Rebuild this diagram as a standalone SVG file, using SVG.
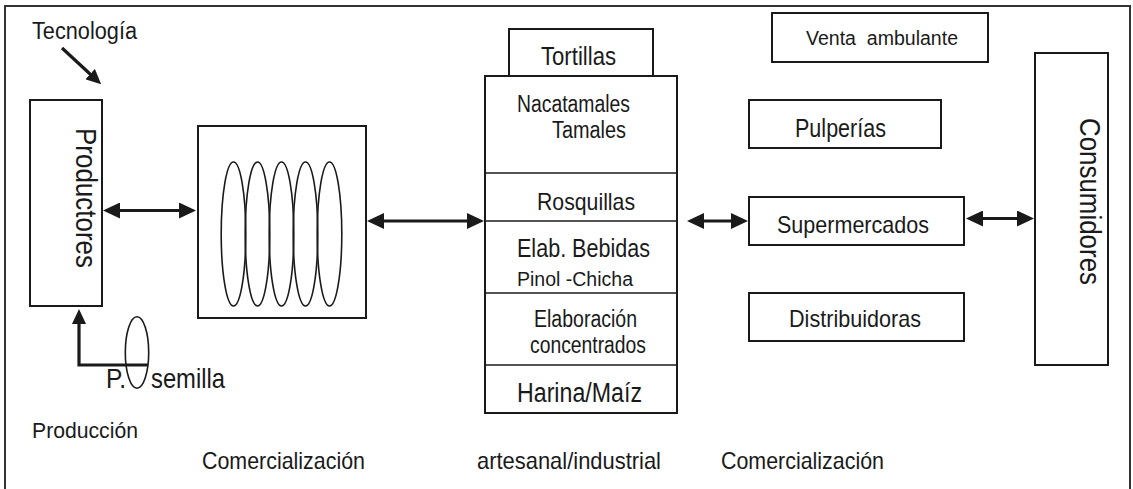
<svg xmlns="http://www.w3.org/2000/svg" width="1133" height="489" viewBox="0 0 1133 489">
<style>
  text { font-family: "Liberation Sans", Arial, sans-serif; fill: #1a1a1a; }
  .box { fill: #fff; stroke: #1a1a1a; stroke-width: 2; }
  .thin { fill: none; stroke: #1a1a1a; stroke-width: 1.6; }
  .conn { fill: none; stroke: #1a1a1a; stroke-width: 3.2; }
</style>
<defs>
  <marker id="ah" viewBox="0 0 17 16" refX="9" refY="8" markerWidth="17" markerHeight="16" markerUnits="userSpaceOnUse" orient="auto-start-reverse">
    <path d="M0,0 L17,8 L0,16 z" fill="#1a1a1a"/>
  </marker>
  <marker id="ahs" viewBox="0 0 15 14" refX="8" refY="7" markerWidth="15" markerHeight="14" markerUnits="userSpaceOnUse" orient="auto">
    <path d="M0,0 L15,7 L0,14 z" fill="#1a1a1a"/>
  </marker>
</defs>

<rect id="frame" x="5" y="6" width="1125" height="500" fill="none" stroke="#333" stroke-width="2"/>

<g id="productores">
  <rect class="box" x="30" y="100" width="72" height="206"/>
  <text transform="translate(76,128) rotate(90)" font-size="30" textLength="140" lengthAdjust="spacingAndGlyphs">Productores</text>
</g>

<g id="acopio">
  <rect class="box" x="198" y="126" width="168" height="192"/>
  <ellipse class="thin" cx="233.5" cy="234" rx="12.3" ry="72"/>
  <ellipse class="thin" cx="257.5" cy="234" rx="12.3" ry="72"/>
  <ellipse class="thin" cx="281.5" cy="234" rx="12.3" ry="72"/>
  <ellipse class="thin" cx="305.5" cy="234" rx="12.3" ry="72"/>
  <ellipse class="thin" cx="329.5" cy="234" rx="12.3" ry="72"/>
</g>

<g id="tortillas">
  <rect class="box" x="509" y="29" width="144" height="47"/>
  <text x="541" y="65" font-size="25" textLength="75" lengthAdjust="spacingAndGlyphs">Tortillas</text>
</g>

<g id="transformacion">
  <rect class="box" x="485" y="76" width="192" height="337"/>
  <line class="thin" x1="485" y1="173" x2="677" y2="173" stroke-width="2"/>
  <line class="thin" x1="485" y1="221" x2="677" y2="221" stroke-width="2"/>
  <line class="thin" x1="485" y1="293" x2="677" y2="293" stroke-width="2"/>
  <line class="thin" x1="485" y1="365" x2="677" y2="365" stroke-width="2"/>
  <text x="517" y="112" font-size="23" textLength="113" lengthAdjust="spacingAndGlyphs">Nacatamales</text>
  <text x="552" y="138" font-size="23" textLength="74" lengthAdjust="spacingAndGlyphs">Tamales</text>
  <text x="537" y="210" font-size="24" textLength="98" lengthAdjust="spacingAndGlyphs">Rosquillas</text>
  <text x="517" y="257" font-size="26" textLength="133" lengthAdjust="spacingAndGlyphs">Elab. Bebidas</text>
  <text x="517" y="286" font-size="20" textLength="116" lengthAdjust="spacingAndGlyphs">Pinol -Chicha</text>
  <text x="534" y="327" font-size="23" textLength="103" lengthAdjust="spacingAndGlyphs">Elaboración</text>
  <text x="530" y="353" font-size="23" textLength="116" lengthAdjust="spacingAndGlyphs">concentrados</text>
  <text x="517" y="402" font-size="27" textLength="125" lengthAdjust="spacingAndGlyphs">Harina/Maíz</text>
</g>

<g id="venta">
  <rect class="box" x="772" y="13" width="216" height="49"/>
  <text x="806" y="45" font-size="20" textLength="152" lengthAdjust="spacingAndGlyphs" xml:space="preserve">Venta  ambulante</text>
</g>
<g id="pulperias">
  <rect class="box" x="749" y="100" width="192" height="48"/>
  <text x="795" y="137" font-size="25" textLength="91" lengthAdjust="spacingAndGlyphs">Pulperías</text>
</g>
<g id="supermercados">
  <rect class="box" x="749" y="197" width="215" height="48"/>
  <text x="777" y="233" font-size="24" textLength="152" lengthAdjust="spacingAndGlyphs">Supermercados</text>
</g>
<g id="distribuidoras">
  <rect class="box" x="749" y="293" width="215" height="48"/>
  <text x="789" y="327" font-size="24" textLength="132" lengthAdjust="spacingAndGlyphs">Distribuidoras</text>
</g>
<g id="consumidores">
  <rect class="box" x="1035" y="53" width="73" height="312"/>
  <text transform="translate(1080,118) rotate(90)" font-size="30" textLength="167" lengthAdjust="spacingAndGlyphs">Consumidores</text>
</g>

<g id="semilla">
  <text y="388" font-size="28"><tspan x="106" textLength="20" lengthAdjust="spacingAndGlyphs">P.</tspan> <tspan x="151" textLength="74" lengthAdjust="spacingAndGlyphs">semilla</tspan></text>
  <ellipse class="thin" cx="137" cy="352.5" rx="11.7" ry="35.8"/>
</g>

<g id="labels">
  <text x="32" y="39" font-size="23" textLength="105" lengthAdjust="spacingAndGlyphs">Tecnología</text>
  <text x="32" y="438" font-size="22" textLength="106" lengthAdjust="spacingAndGlyphs">Producción</text>
  <text x="202" y="469" font-size="24" textLength="163" lengthAdjust="spacingAndGlyphs">Comercialización</text>
  <text x="477" y="469" font-size="24" textLength="184" lengthAdjust="spacingAndGlyphs">artesanal/industrial</text>
  <text x="721" y="469" font-size="24" textLength="163" lengthAdjust="spacingAndGlyphs">Comercialización</text>
</g>

<g id="connectors">
  <line class="conn" x1="62" y1="48" x2="96" y2="79.5" marker-end="url(#ahs)"/>
  <polyline class="conn" points="148,365 79,365 79,316" marker-end="url(#ahs)"/>
  <line class="conn" x1="111" y1="210.5" x2="188" y2="210.5" marker-start="url(#ah)" marker-end="url(#ah)"/>
  <line class="conn" x1="375" y1="221" x2="476" y2="221" marker-start="url(#ah)" marker-end="url(#ah)"/>
  <line class="conn" x1="695" y1="221" x2="740" y2="221" marker-start="url(#ah)" marker-end="url(#ah)"/>
  <line class="conn" x1="974" y1="218.5" x2="1026" y2="218.5" marker-start="url(#ah)" marker-end="url(#ah)"/>
</g>
</svg>
